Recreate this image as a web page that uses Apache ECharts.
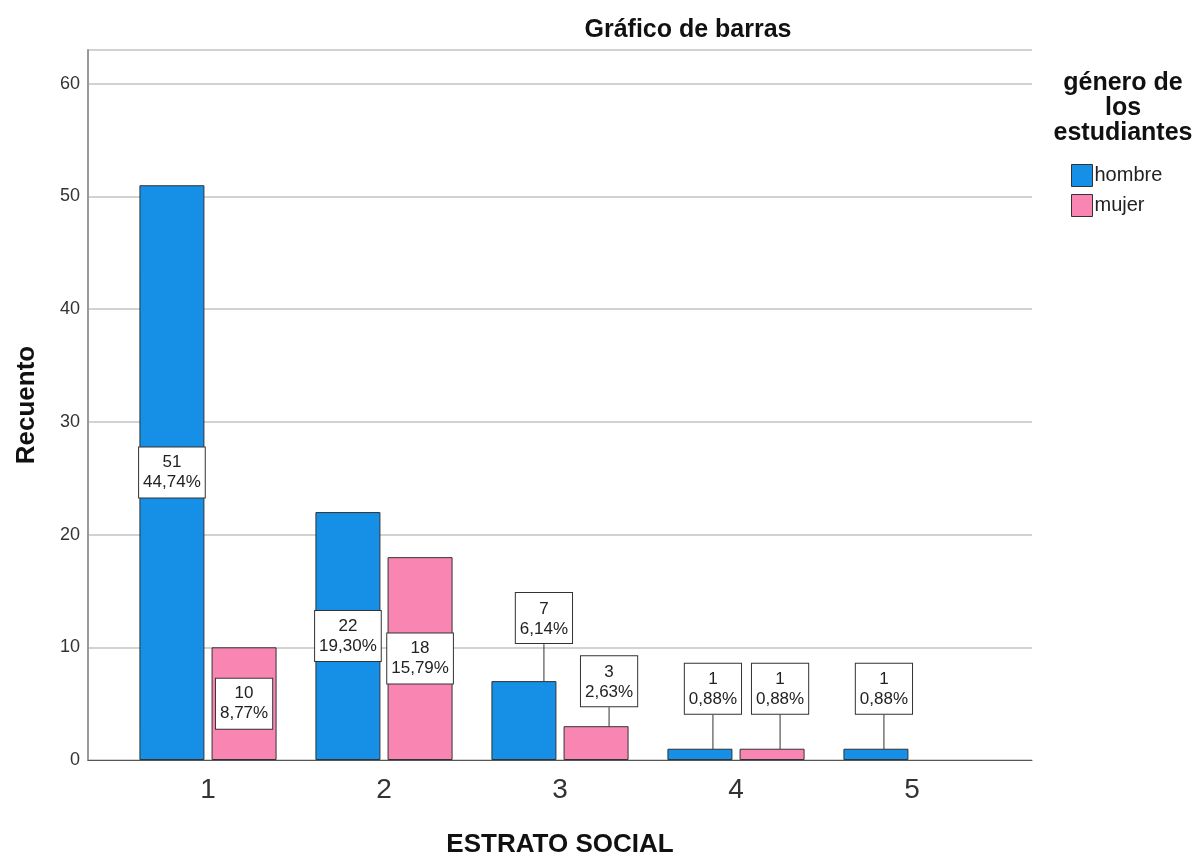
<!DOCTYPE html>
<html>
<head>
<meta charset="utf-8">
<script src="https://cdn.jsdelivr.net/npm/echarts@6/dist/echarts.min.js"></script>
<style>
  html, body { margin: 0; padding: 0; background: #fff; }
  #chart { width: 1199px; height: 861px; }
</style>
</head>
<body>
<div id="chart"></div>
<script>
const categories = ['1', '2', '3', '4', '5']
const hombre = [51, 22, 7, 1, 1]
const mujer = [10, 18, 3, 1, null]
const seriesNames = ['hombre', 'mujer']
const total = 114

const BLUE = '#168fe6'
const PINK = '#f985b3'
const FONT = '"Liberation Sans", Arial, sans-serif'

const pct = (v) => ((v / total) * 100).toFixed(2).replace('.', ',') + '%'

// bars too short for the box: box goes above, with a guide line
const toItems = (values) =>
  values.map((v) => {
    if (v == null) return null
    if (v >= 10) return { value: v }
    return {
      value: v,
      label: { position: 'top', distance: 0 },
      labelLine: { show: true, lineStyle: { color: '#333', width: 1 } },
    }
  })

const liftLabel = (params) => {
  const v = [hombre, mujer][params.seriesIndex][params.dataIndex]
  if (v == null || v >= 10) return {}
  const dy = v >= 5 ? -38 : v > 1 ? -20 : -35
  const dx = v >= 5 ? 20 : params.seriesIndex === 0 && params.dataIndex === 3 ? 13 : v > 1 ? 13 : 8
  return { dx, dy }
}

const labelStyle = {
  show: true,
  position: 'inside',
  formatter: (p) => `${p.value}\n${pct(p.value)}`,
  fontFamily: FONT,
  fontSize: 17,
  lineHeight: 20,
  color: '#222',
  backgroundColor: '#fff',
  borderColor: '#333',
  borderWidth: 1,
  padding: [6, 4, 4, 4],
}

const chart = echarts.init(document.getElementById('chart'))

chart.setOption({
  animation: false,
  textStyle: { fontFamily: FONT },
  title: [
    {
      text: 'Gráfico de barras',
      left: 683,
      top: 13,
      textAlign: 'center',
      textStyle: { fontSize: 25, fontWeight: 'bold', color: '#111', fontFamily: FONT },
    },
    {
      text: 'género de\nlos\nestudiantes',
      left: 1118,
      top: 66,
      textAlign: 'center',
      textStyle: { fontSize: 25, fontWeight: 'bold', color: '#111', lineHeight: 25, fontFamily: FONT },
    },
  ],
  legend: {
    data: seriesNames,
    orient: 'vertical',
    left: 1071,
    top: 164,
    padding: 0,
    icon: 'rect',
    itemWidth: 21,
    itemHeight: 22,
    itemGap: 7,
    itemStyle: { borderColor: '#333', borderWidth: 1 },
    textStyle: { fontSize: 20, color: '#222', fontFamily: FONT, padding: [0, 0, 0, -3] },
  },
  grid: [
    { left: 88, right: 167, top: 50, bottom: 101, outerBoundsMode: 'none' },
    { left: 120, right: 199, top: 50, bottom: 101, outerBoundsMode: 'none' },
  ],
  xAxis: [
    {
      gridIndex: 0,
      type: 'value',
      min: 0,
      max: 1,
      axisLine: { show: true, onZero: false, lineStyle: { color: '#555', width: 1 } },
      axisTick: { show: false },
      axisLabel: { show: false },
      splitLine: { show: false },
    },
    {
      gridIndex: 1,
      type: 'category',
      data: categories,
      axisLine: { show: false },
      axisTick: { show: false },
      axisLabel: { fontSize: 28, color: '#333', margin: 16 },
      name: 'ESTRATO SOCIAL',
      nameLocation: 'middle',
      nameGap: 72,
      nameTextStyle: { fontSize: 26, fontWeight: 'bold', color: '#111' },
    },
  ],
  yAxis: [
    {
      gridIndex: 0,
      type: 'value',
      min: 0,
      max: 63,
      interval: 10,
      axisLine: { show: true, lineStyle: { color: '#999', width: 2 } },
      axisTick: { show: false },
      axisLabel: { fontSize: 18, color: '#333', margin: 8, showMaxLabel: false },
      splitLine: { lineStyle: { color: '#d2d2d2', width: 2 } },
      name: 'Recuento',
      nameLocation: 'middle',
      nameGap: 48,
      nameTextStyle: { fontSize: 26, fontWeight: 'bold', color: '#111' },
    },
    {
      gridIndex: 1,
      type: 'value',
      min: 0,
      max: 63,
      show: false,
      splitLine: { show: false },
    },
  ],
  series: [
    {
      name: seriesNames[0],
      type: 'bar',
      xAxisIndex: 1,
      yAxisIndex: 1,
      data: toItems(hombre),
      barWidth: 65,
      barGap: '11%',
      itemStyle: { color: BLUE, borderColor: '#333', borderWidth: 1 },
      label: labelStyle,
      labelLayout: liftLabel,
    },
    {
      name: seriesNames[1],
      type: 'bar',
      xAxisIndex: 1,
      yAxisIndex: 1,
      data: toItems(mujer),
      barWidth: 65,
      barGap: '11%',
      itemStyle: { color: PINK, borderColor: '#333', borderWidth: 1 },
      label: labelStyle,
      labelLayout: liftLabel,
    },
  ],
})
</script>
</body>
</html>
